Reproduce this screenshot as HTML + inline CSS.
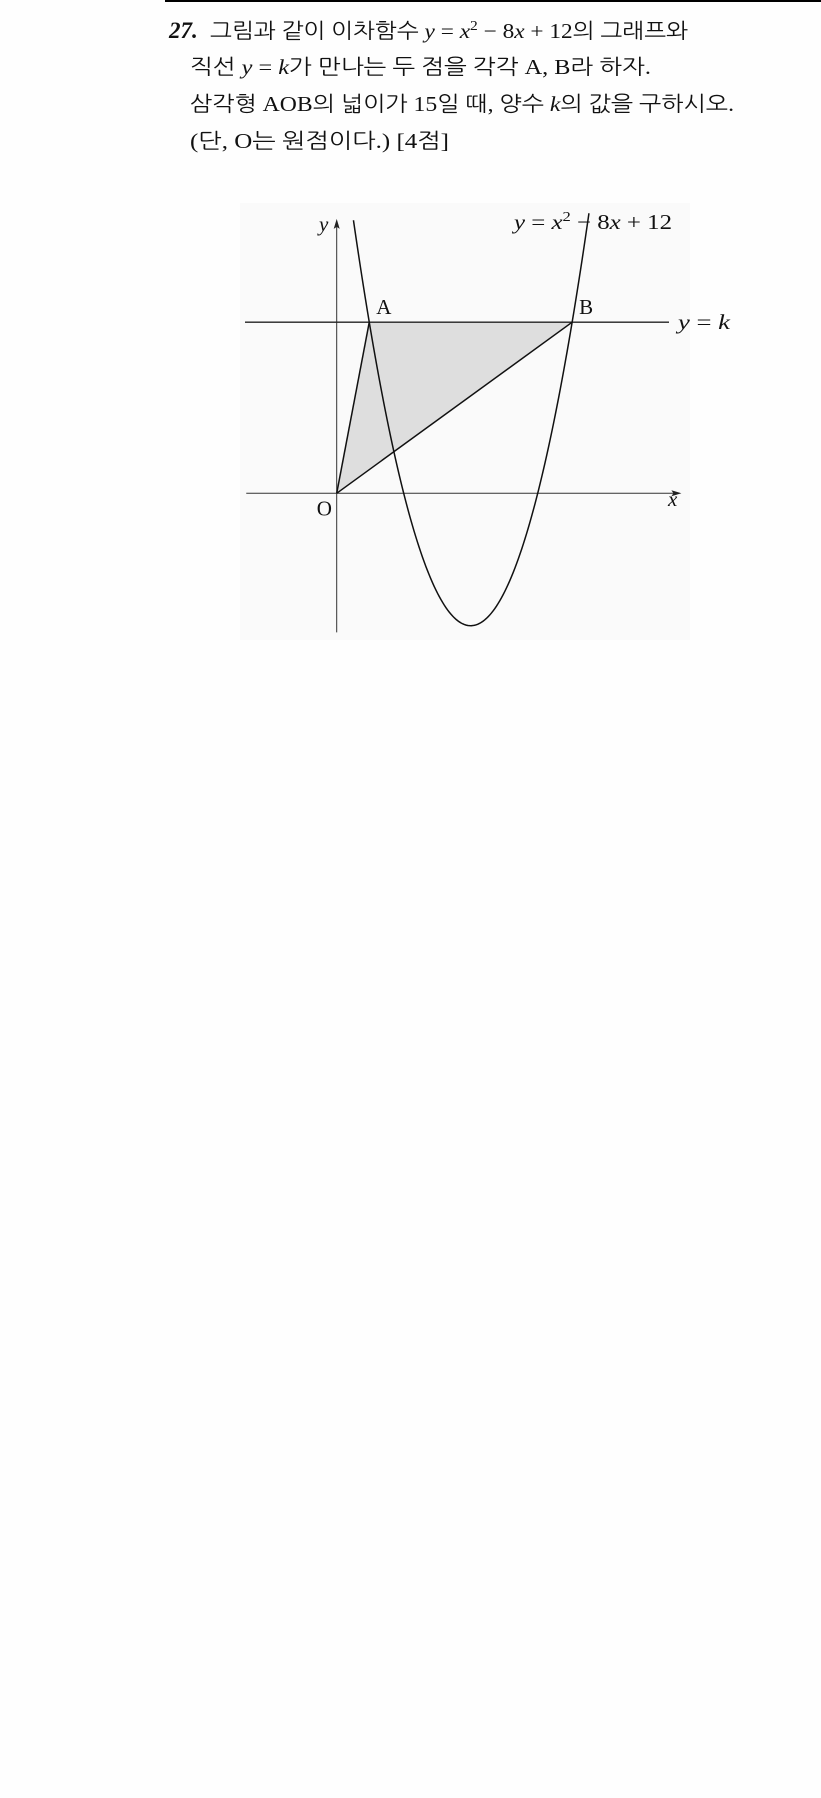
<!DOCTYPE html>
<html><head><meta charset="utf-8">
<style>
html,body{margin:0;padding:0;background:#fefefe;}
svg{display:block;}
text{font-family:"Liberation Serif","Noto Serif CJK SC","Noto Sans CJK KR",serif;fill:#111;}
.kr{font-family:"Liberation Serif","NanumGothic","Noto Sans CJK KR",serif;}
</style></head>
<body>
<svg id="page" width="821" height="1798" viewBox="0 0 821 1798">
<line x1="165" y1="1" x2="821" y2="1" stroke="#000" stroke-width="2"/>
<text x="169" y="38" font-size="23" font-style="italic" font-weight="bold">27.</text>
<text x="210" y="38" font-size="21" class="kr" textLength="478" lengthAdjust="spacingAndGlyphs">그림과 같이 이차함수 <tspan font-style="italic">y</tspan> = <tspan font-style="italic">x</tspan><tspan font-size="14" dy="-8">2</tspan><tspan dy="8"> − 8</tspan><tspan font-style="italic">x</tspan> + 12의 그래프와</text>
<text x="190" y="74" font-size="21" class="kr" textLength="461" lengthAdjust="spacingAndGlyphs">직선 <tspan font-style="italic">y</tspan> = <tspan font-style="italic">k</tspan>가 만나는 두 점을 각각 A, B라 하자.</text>
<text x="190" y="111" font-size="21" class="kr" textLength="544" lengthAdjust="spacingAndGlyphs">삼각형 AOB의 넓이가 15일 때, 양수 <tspan font-style="italic">k</tspan>의 값을 구하시오.</text>
<text x="190" y="148" font-size="21" class="kr" textLength="259" lengthAdjust="spacingAndGlyphs">(단, O는 원점이다.) [4점]</text>

<rect x="240" y="203" width="450" height="437" fill="#fafafa"/>
<g id="chart"></g>
</svg>
<script>
// data
const coeffs = [1, -8, 12];        // y = x^2 - 8x + 12
const kValue = [5.17];             // drawn height of y = k
const xDomain = [0.5, 7.53];       // visible parabola range
const axisXRange = [-2.7, 10.2];
const axisYRange = [-4.2, 8.2];

const ox = 336.7, oy = 493.3, ux = 33.5, uy = 33.1;
function sx(v){ return ox + v*ux; }
function sy(v){ return oy - v*uy; }
function f(x){ return coeffs[0]*x*x + coeffs[1]*x + coeffs[2]; }

const NS = "http://www.w3.org/2000/svg";
const g = document.getElementById('chart');
function mk(tag, attrs){ const e=document.createElementNS(NS,tag); for(const k in attrs) e.setAttribute(k, attrs[k]); g.appendChild(e); return e; }

const k = kValue[0];
const disc = Math.sqrt(coeffs[1]*coeffs[1] - 4*coeffs[0]*(coeffs[2]-k));
const xA = (-coeffs[1] - disc)/(2*coeffs[0]);
const xB = (-coeffs[1] + disc)/(2*coeffs[0]);

const tri = mk('polygon', {points: `${sx(0)},${sy(0)} ${sx(xA)},${sy(k)} ${sx(xB)},${sy(k)}`, fill:'#dedede', stroke:'none'});



const xAxis = mk('line', {x1:sx(axisXRange[0]), y1:sy(0), x2:sx(axisXRange[1]), y2:sy(0), stroke:'#333', 'stroke-width':1});


const yAxis = mk('line', {x1:sx(0), y1:sy(axisYRange[0]), x2:sx(0), y2:sy(axisYRange[1]), stroke:'#333', 'stroke-width':1});


const xArrow = mk('polygon', {points:`${sx(axisXRange[1])+3},${sy(0)} ${sx(axisXRange[1])-7},${sy(0)-3} ${sx(axisXRange[1])-5},${sy(0)} ${sx(axisXRange[1])-7},${sy(0)+3}`, fill:'#222'});


const yArrow = mk('polygon', {points:`${sx(0)},${sy(axisYRange[1])-3} ${sx(0)-3},${sy(axisYRange[1])+7} ${sx(0)},${sy(axisYRange[1])+5} ${sx(0)+3},${sy(axisYRange[1])+7}`, fill:'#222'});



const kLine = mk('line', {x1:245, y1:sy(k), x2:669, y2:sy(k), stroke:'#222', 'stroke-width':1.4});



let d = '';
for(let i=0;i<=140;i++){ const x = xDomain[0] + (xDomain[1]-xDomain[0])*i/140; d += (i?'L':'M') + sx(x).toFixed(2) + ',' + sy(f(x)).toFixed(2); }
const para = mk('path', {d:d, fill:'none', stroke:'#111', 'stroke-width':1.5});



const oa = mk('line', {x1:sx(0), y1:sy(0), x2:sx(xA), y2:sy(k), stroke:'#111', 'stroke-width':1.5});


const ob = mk('line', {x1:sx(0), y1:sy(0), x2:sx(xB), y2:sy(k), stroke:'#111', 'stroke-width':1.5});



function label(txt, x, y, italic, size){
  const t = mk('text', {x:x, y:y, 'font-size':size||20});
  if(italic) t.setAttribute('font-style','italic');
  t.textContent = txt;
  return t;
}
const lA = label('A', sx(xA)+7, sy(k)-8, false, 21);


const lB = label('B', sx(xB)+7, sy(k)-8, false, 21);


const lO = label('O', sx(0)-20, sy(0)+22, false, 21);


const lx = label('x', 668, 506, true, 21);


const ly = label('y', 319, 231, true, 21);


const lk = mk('text', {x:678, y:sy(k)+7, 'font-size':21, textLength:52, lengthAdjust:'spacingAndGlyphs'});
lk.innerHTML = '<tspan font-style="italic">y</tspan> = <tspan font-style="italic">k</tspan>';


const le = mk('text', {x:514, y:229, 'font-size':21, textLength:158, lengthAdjust:'spacingAndGlyphs'});
le.innerHTML = '<tspan font-style="italic">y</tspan> = <tspan font-style="italic">x</tspan><tspan font-size="14" dy="-8">2</tspan><tspan dy="8"> − 8</tspan><tspan font-style="italic">x</tspan> + 12';


</script>
</body></html>
